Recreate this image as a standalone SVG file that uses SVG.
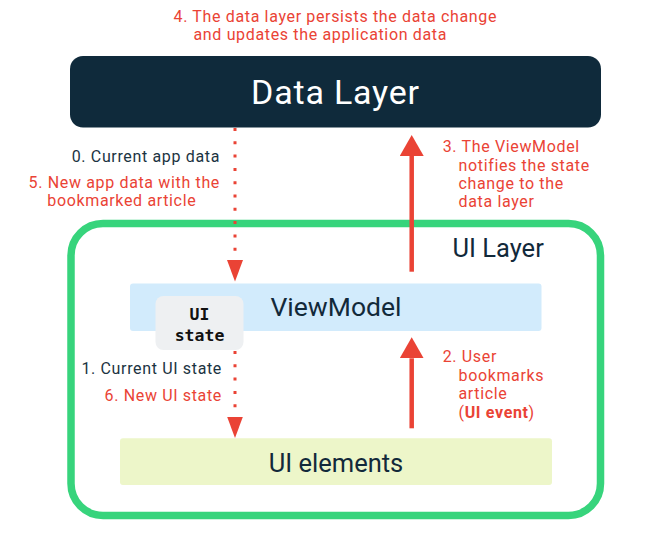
<svg xmlns="http://www.w3.org/2000/svg" width="646" height="535" viewBox="0 0 646 535">
<defs>
<style>
.lbl{font-family:Roboto,"Liberation Sans",sans-serif;font-size:16px;letter-spacing:0.65px}
.red{fill:#ea4335}
.dark{fill:#1b3342}
.title{font-family:Roboto,"Liberation Sans",sans-serif;fill:#12293a;text-anchor:middle}
.mono{font-family:"DejaVu Sans Mono","Liberation Mono",monospace;font-weight:bold;font-size:16.5px;fill:#111;text-anchor:middle}
.solid{stroke:#ea4335;stroke-width:4.5;fill:none}
.dot{stroke:#ea4335;stroke-width:3;stroke-dasharray:3 10.3;fill:none}
</style>
<marker id="headSolid" markerUnits="userSpaceOnUse" markerWidth="22" markerHeight="24" refX="0" refY="12" orient="auto" viewBox="0 0 22 24">
<path d="M0,0 L21,12 L0,24 z" fill="#ea4335"/>
</marker>
<marker id="headDot" markerUnits="userSpaceOnUse" markerWidth="22" markerHeight="16" refX="0" refY="8" orient="auto" viewBox="0 0 22 16">
<path d="M0,0 L21.5,8 L0,16 z" fill="#ea4335"/>
</marker>
</defs>
<rect width="646" height="535" fill="#ffffff"/>

<g id="ui-layer">
<rect x="71" y="223.5" width="529.5" height="292" rx="32" fill="none" stroke="#37d47c" stroke-width="7.5"/>
<text x="452.5" y="257" class="title" style="font-size:25.5px;text-anchor:start">UI Layer</text>
</g>

<g id="data-layer">
<rect x="70" y="56" width="531" height="71.5" rx="13" fill="#0f2a3b"/>
<text x="335.5" y="103.5" style="font-family:Roboto,'Liberation Sans',sans-serif;font-size:34px;letter-spacing:0.8px;fill:#ffffff;text-anchor:middle">Data Layer</text>
</g>

<g id="viewmodel">
<rect x="130" y="283.5" width="411.5" height="47.5" rx="3" fill="#d2ebfc"/>
<text x="336" y="316" class="title" style="font-size:26.5px">ViewModel</text>
</g>

<g id="ui-state">
<rect x="155.5" y="296" width="88" height="54" rx="8" fill="#eef0f2"/>
<text x="199.5" y="319.5" class="mono">UI</text>
<text x="199.5" y="340.5" class="mono">state</text>
</g>

<g id="ui-elements">
<rect x="120" y="438.3" width="432" height="46.7" rx="3" fill="#edf6c9"/>
<text x="336" y="471.5" class="title" style="font-size:25.5px">UI elements</text>
</g>

<g id="connectors">
<line x1="235" y1="128" x2="235" y2="260" class="dot" marker-end="url(#headDot)"/>
<line x1="235" y1="351" x2="235" y2="416.5" class="dot" marker-end="url(#headDot)"/>
<line x1="411.7" y1="271.7" x2="411.7" y2="156" class="solid" marker-end="url(#headSolid)"/>
<line x1="411.7" y1="428.3" x2="411.7" y2="358.3" class="solid" marker-end="url(#headSolid)"/>
</g>

<g id="labels">
<text x="173.5" y="21.7" class="lbl red">4. The data layer persists the data change</text>
<text x="193.5" y="40" class="lbl red">and updates the application data</text>

<text x="220" y="161.7" class="lbl dark" text-anchor="end">0. Current app data</text>
<text x="220" y="188.3" class="lbl red" text-anchor="end">5. New app data with the</text>
<text x="47.3" y="206" class="lbl red">bookmarked article</text>

<text x="442.7" y="152" class="lbl red">3. The ViewModel</text>
<text x="458.5" y="170.5" class="lbl red">notifies the state</text>
<text x="458.5" y="189" class="lbl red">change to the</text>
<text x="458.5" y="207" class="lbl red">data layer</text>

<text x="222" y="374.3" class="lbl dark" text-anchor="end">1. Current UI state</text>
<text x="222" y="400.7" class="lbl red" text-anchor="end">6. New UI state</text>

<text x="442.7" y="362.3" class="lbl red">2. User</text>
<text x="458.5" y="381" class="lbl red">bookmarks</text>
<text x="458.5" y="399" class="lbl red">article</text>
<text x="458.5" y="417.5" class="lbl red">(<tspan font-weight="bold">UI event</tspan>)</text>
</g>
</svg>
